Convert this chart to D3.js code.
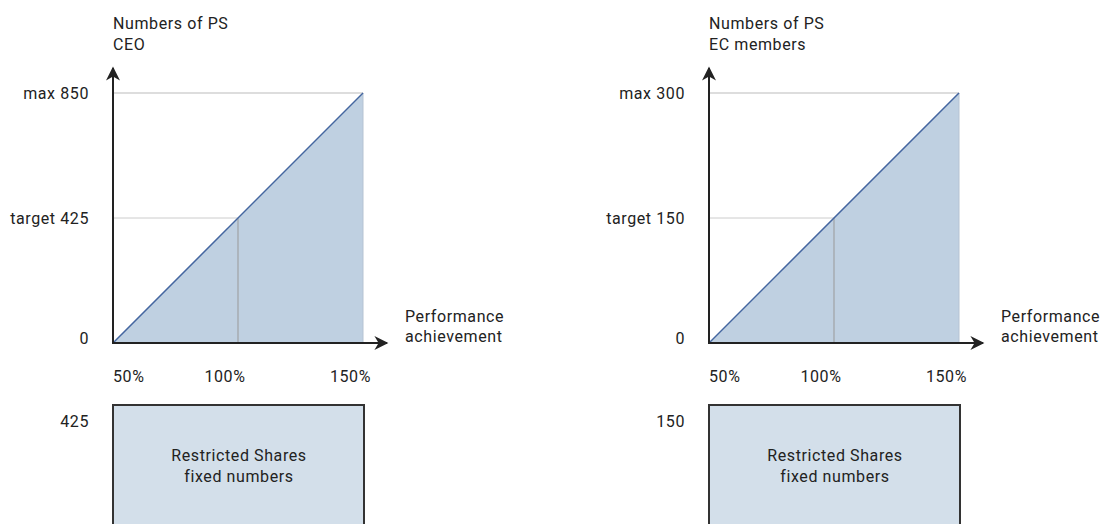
<!DOCTYPE html>
<html>
<head>
<meta charset="utf-8">
<script src="https://cdn.jsdelivr.net/npm/d3@7"></script>
<style>
  body { margin: 0; background: #fff; }
  svg { display: block; font-family: Roboto, "DejaVu Sans", sans-serif; }
  text { fill: #222; font-size: 16px; letter-spacing: 0.6px; }
</style>
</head>
<body>
<svg id="chart" width="1104" height="524"></svg>
<script>
// panels
const titles = [["Numbers of PS", "CEO"], ["Numbers of PS", "EC members"]];
const maxValues = [850, 300];
const targetValues = [425, 150];
const restrictedValues = [425, 150];
const achievement = [50, 100, 150];   // % ticks
const xAxisLabel = ["Performance", "achievement"];
const boxLabel = ["Restricted Shares", "fixed numbers"];

const svg = d3.select("#chart");

// arrow markers
const defs = svg.append("defs");
defs.append("marker")
  .attr("id", "arrow")
  .attr("viewBox", "0 0 10 10")
  .attr("refX", 9).attr("refY", 5)
  .attr("markerWidth", 8).attr("markerHeight", 7)
  .attr("markerUnits", "strokeWidth")
  .attr("orient", "auto")
  .append("path")
  .attr("d", "M0,0 L10,5 L0,10 L3,5 Z")
  .attr("fill", "#222");

const panelOffset = 596;

maxValues.forEach((maxV, i) => {
  const g = svg.append("g").attr("transform", `translate(${i * panelOffset},0)`);

  const x = d3.scaleLinear().domain([50, 150]).range([113, 363]);
  const y = d3.scaleLinear().domain([0, maxV]).range([343, 93]);

  // area under diagonal
  const pts = [[50, 0], [150, maxV]];
  g.append("path")
    .datum(pts)
    .attr("d", d3.area().x(d => x(d[0])).y0(y(0)).y1(d => y(d[1])))
    .attr("fill", "#bfd0e1");

  // grid lines at max and target
  g.append("line")
    .attr("x1", x(50)).attr("x2", x(150))
    .attr("y1", y(maxV)).attr("y2", y(maxV))
    .attr("stroke", "#bbb").attr("stroke-width", 1);
  g.append("line")
    .attr("x1", x(50)).attr("x2", x(100))
    .attr("y1", y(targetValues[i])).attr("y2", y(targetValues[i]))
    .attr("stroke", "#ccc").attr("stroke-width", 1);
  g.append("line")
    .attr("x1", x(100)).attr("x2", x(100))
    .attr("y1", y(targetValues[i])).attr("y2", y(0))
    .attr("stroke", "#999").attr("stroke-width", 1);
  g.append("line")
    .attr("x1", x(150)).attr("x2", x(150))
    .attr("y1", y(maxV)).attr("y2", y(0))
    .attr("stroke", "#b5c3d2").attr("stroke-width", 1);

  // diagonal
  g.append("path")
    .datum(pts)
    .attr("d", d3.line().x(d => x(d[0])).y(d => y(d[1])))
    .attr("fill", "none")
    .attr("stroke", "#4466a0")
    .attr("stroke-width", 1.5);

  // axes with arrows
  g.append("line")
    .attr("x1", x(50)).attr("x2", x(50))
    .attr("y1", y(0) + 1).attr("y2", 68)
    .attr("stroke", "#222").attr("stroke-width", 2)
    .attr("marker-end", "url(#arrow)");
  g.append("line")
    .attr("x1", x(50) - 1).attr("x2", x(150) + 24)
    .attr("y1", y(0)).attr("y2", y(0))
    .attr("stroke", "#222").attr("stroke-width", 2)
    .attr("marker-end", "url(#arrow)");

  // titles
  g.append("text")
    .attr("x", x(50)).attr("y", 29)
    .selectAll("tspan").data(titles[i]).join("tspan")
    .attr("x", x(50)).attr("dy", (d, j) => j ? 21 : 0)
    .text(d => d);

  // y labels
  const yLabels = [["max " + maxV, maxV, 0], ["target " + targetValues[i], targetValues[i], 0], ["0", 0, -5]];
  g.selectAll("text.ylab").data(yLabels).join("text")
    .attr("class", "ylab")
    .attr("x", 89)
    .attr("y", d => y(d[1]) + d[2])
    .attr("dy", "0.35em")
    .attr("text-anchor", "end")
    .text(d => d[0]);

  // x tick labels
  const anchors = ["start", "middle", "end"];
  const shifts = [0, -13, 8];
  g.selectAll("text.xlab").data(achievement).join("text")
    .attr("class", "xlab")
    .attr("x", (d, j) => x(d) + shifts[j])
    .attr("y", 376)
    .attr("dy", "0.35em")
    .attr("text-anchor", (d, j) => anchors[j])
    .text(d => d + "%");

  // x axis label
  g.append("text")
    .attr("y", 318)
    .selectAll("tspan").data(xAxisLabel).join("tspan")
    .attr("x", x(150) + 42).attr("dy", (d, j) => j ? 20 : 0)
    .attr("dominant-baseline", "middle")
    .text(d => d);

  // restricted shares box
  g.append("rect")
    .attr("x", x(50)).attr("y", 405)
    .attr("width", x(150) - x(50) + 1)
    .attr("height", 140)
    .attr("fill", "#d3dfea")
    .attr("stroke", "#333").attr("stroke-width", 2);
  g.append("text")
    .attr("x", 89).attr("y", 421).attr("dy", "0.35em")
    .attr("text-anchor", "end")
    .text(restrictedValues[i]);
  g.append("text")
    .attr("y", 457)
    .attr("text-anchor", "middle")
    .selectAll("tspan").data(boxLabel).join("tspan")
    .attr("x", x(100) + 1).attr("dy", (d, j) => j ? 21 : 0)
    .attr("dominant-baseline", "middle")
    .text(d => d);
});
</script>
</body>
</html>
